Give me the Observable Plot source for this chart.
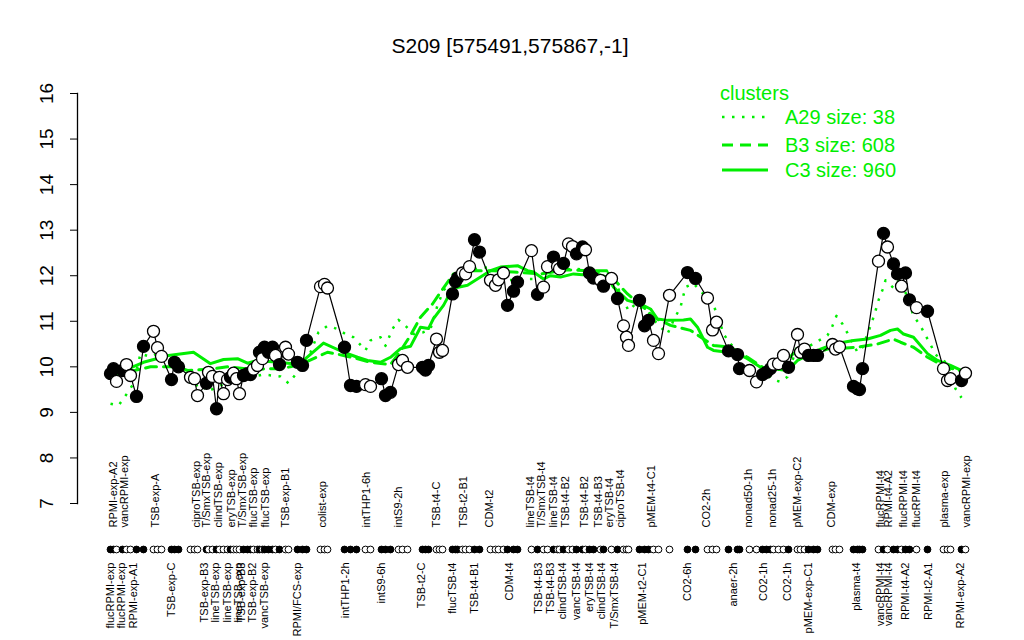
<!DOCTYPE html>
<html><head><meta charset="utf-8">
<script src="https://cdn.jsdelivr.net/npm/d3@7"></script>
<script src="https://cdn.jsdelivr.net/npm/@observablehq/plot@0.6"></script>
<style>
body{margin:0;background:#fff;font-family:"Liberation Sans",Arial,Helvetica,sans-serif;}
#wrap{position:relative;width:1024px;height:640px;overflow:hidden;}
#chart{position:absolute;left:0;top:0;}
#title{position:absolute;left:0;width:1020px;top:34px;text-align:center;font-size:21px;line-height:24px;color:#000;}
.lg{position:absolute;color:#00ee00;font-size:20px;line-height:24px;white-space:nowrap;}
.lgsvg{position:absolute;}
</style></head><body>
<div id="wrap">
<div id="chart"></div>
<div id="title">S209 [575491,575867,-1]</div>
<div id="legend"></div>
</div>
<script>
// ---- data ----
const pointPos = [0,3,6,12,16,20,26,33,43,47,51,61,64,68,80,84,87,96,98,102,106,109,113,117,120,123,126,129,133,137,140,143,147,149,152,154,158,162,165,169,175,178,187,192,196,210,214,217,234,240,246,255,260,271,275,280,288,292,297,312,315,318,326,329,332,342,345,347,352,355,359,364,369,380,385,388,393,397,403,407,421,427,433,437,443,447,449,453,458,462,466,472,475,479,483,490,493,501,507,513,516,518,529,534,538,543,548,559,577,585,597,602,606,618,627,629,639,646,652,656,660,663,668,673,678,687,690,694,698,703,707,722,725,729,743,747,749,752,768,773,777,783,787,791,795,799,806,817,833,837,840,851,855];
const pointValue = [9.85,9.96,9.68,9.92,10.05,9.81,9.35,10.45,10.78,10.42,10.23,9.72,10.10,10.00,9.77,9.74,9.37,9.64,9.88,9.79,9.08,9.77,9.41,9.72,9.77,9.86,9.74,9.41,9.81,9.85,9.83,9.95,10.03,10.32,10.18,10.43,10.32,10.43,10.25,10.05,10.43,10.28,10.10,10.03,10.58,11.76,11.81,11.73,10.43,9.59,9.57,9.61,9.57,9.74,9.37,9.44,10.05,10.14,9.99,9.99,9.93,10.03,10.61,10.32,10.36,11.60,11.87,11.95,12.06,12.04,12.20,12.79,12.52,11.90,11.79,11.91,12.06,11.35,11.66,11.86,12.55,11.59,11.75,12.20,12.41,12.20,12.15,12.27,12.70,12.64,12.48,12.63,12.57,12.06,11.95,11.90,11.77,11.94,11.50,10.90,10.65,10.47,11.46,10.90,11.02,10.58,10.29,11.57,12.07,11.94,11.51,10.81,10.98,10.35,10.27,9.96,9.92,9.67,9.83,9.88,9.96,10.06,10.07,10.25,9.99,10.71,10.32,10.39,10.25,10.25,10.25,10.49,10.39,10.44,9.57,9.52,9.50,9.96,12.32,12.93,12.63,12.26,12.04,11.77,12.06,11.47,11.30,11.22,9.96,9.70,9.74,9.70,9.86];
const pointFilled = [1,1,0,1,0,0,1,1,0,0,0,1,1,1,0,0,0,1,0,0,1,0,0,0,1,0,0,0,1,1,1,0,0,1,0,1,1,1,0,1,0,0,1,1,1,0,0,0,1,1,1,0,0,1,1,1,0,0,0,1,1,1,0,0,0,1,1,1,0,0,0,1,1,0,0,0,0,1,1,1,0,1,0,0,1,0,0,1,0,0,1,1,0,1,1,0,1,0,1,0,0,0,1,1,1,0,0,0,1,1,0,0,0,1,1,1,0,0,1,1,1,0,0,0,1,0,0,0,1,1,1,0,0,0,1,1,1,1,0,1,0,1,1,0,1,1,0,1,0,0,0,1,0];

const topLabels = ["RPMI-exp-A2","vancRPMI-exp","TSB-exp-A","ciproTSB-exp","T/SmxTSB-exp","clindTSB-exp","eryTSB-exp","T/SmxTSB-exp","flucTSB-exp","flucTSB-exp","TSB-exp-B1","colist-exp","intTHP1-6h","intS9-2h","TSB-t4-C","TSB-t2-B1","CDM-t2","lineTSB-t4","T/SmxTSB-t4","lineTSB-t4","TSB-t4-B2","TSB-t4-B2","TSB-t4-B3","eryTSB-t4","ciproTSB-t4","pMEM-t4-C1","CO2-2h","nonad50-1h","nonad25-1h","pMEM-exp-C2","CDM-exp","flucRPMI-t4","RPMI-t4-A2","flucRPMI-t4","flucRPMI-t4","plasma-exp","vancRPMI-exp"];
const topLabelPos = [3,14,45,86,96,108,121,132,143,155,175,212,256,288,326,353,379,420,431,443,455,474,488,499,510,541,596,638,662,687,721,770,778,793,806,834,856];
const bottomLabels = ["flucRPMI-exp","flucRPMI-exp","RPMI-exp-A1","TSB-exp-C","TSB-exp-B3","lineTSB-exp","lineTSB-exp","lineTSB-exp","TSB-exp-B3","TSB-exp-B2","vancTSB-exp","RPMI/FCS-exp","intTHP1-2h","intS9-6h","TSB-t2-C","flucTSB-t4","TSB-t4-B1","CDM-t4","TSB-t4-B3","TSB-t4-B3","clindTSB-t4","vancTSB-t4","eryTSB-t4","clindTSB-t4","T/SmxTSB-t4","pMEM-t2-C1","CO2-6h","anaer-2h","CO2-1h","CO2-1h","pMEM-exp-C1","plasma-t4","vancRPMI-t4","vancRPMI-t4","RPMI-t4-A2","RPMI-t2-A1","RPMI-exp-A2"];
const bottomLabelPos = [0,11,23,61,94,105,117,128,131,142,154,187,235,271,311,342,364,399,428,440,452,466,479,491,504,532,577,623,653,677,698,746,770,778,795,818,850];

const c3Pos = [0,17,33,58,83,100,113,127,137,147,167,183,193,213,233,247,257,270,280,290,300,310,318,323,333,342,357,370,380,390,407,417,423,433,440,450,463,472,480,497,503,517,530,540,547,557,573,580,587,597,603,617,627,637,650,663,677,687,697,710,723,743,757,770,780,787,793,803,817,827,840,855];
const c3Val = [9.80,9.95,10.10,10.25,10.32,10.07,10.16,10.18,10.08,10.14,10.10,10.07,10.14,10.52,10.32,10.21,10.14,10.10,10.21,10.40,10.45,10.87,10.84,11.06,11.35,11.72,11.79,11.97,12.11,12.19,12.22,12.11,12.08,11.93,12.00,11.97,12.04,12.02,12.08,11.97,11.75,11.46,11.38,11.27,11.05,11.02,11.03,11.05,10.87,10.43,10.36,10.32,10.29,10.18,9.99,9.96,9.92,10.14,10.25,10.39,10.50,10.58,10.61,10.69,10.80,10.83,10.72,10.65,10.29,10.14,10.03,9.88];
const b3Pos = [0,20,40,67,77,100,117,140,167,180,195,217,233,243,260,280,290,300,310,322,330,343,357,383,403,430,457,477,497,503,517,533,543,560,580,603,620,637,657,670,683,703,717,747,767,783,790,803,817,835,855];
const b3Val = [9.80,9.90,10.00,10.00,9.92,9.95,10.00,9.95,9.96,10.00,10.10,10.32,10.25,10.20,10.10,10.05,10.35,10.69,11.09,11.38,11.64,12.04,12.11,12.11,12.08,12.04,12.13,12.11,12.11,11.93,11.60,11.31,11.09,10.91,10.80,10.47,10.43,10.21,9.92,9.96,10.30,10.29,10.39,10.43,10.50,10.61,10.54,10.43,10.21,10.00,9.88];
const a29Pos = [0,8,13,23,30,40,50,73,82,90,97,123,137,153,170,178,185,200,208,217,227,235,243,255,260,270,275,282,288,295,303,313,320,327,333,338,350,380,397,417,427,443,467,487,497,507,518,525,537,547,557,563,570,575,583,602,607,613,620,637,648,662,670,677,687,697,717,722,726,732,737,747,752,757,762,765,768,772,775,783,790,803,810,815,820,825,837,845,851];
const a29Val = [9.19,9.15,9.30,9.63,10.29,10.22,10.32,10.00,9.55,9.63,9.46,9.72,9.76,9.83,9.79,9.64,9.83,10.32,10.76,10.90,10.83,10.72,10.65,10.36,10.58,10.65,10.46,10.83,11.03,10.90,10.72,10.76,10.83,11.35,11.68,11.79,12.11,12.19,11.90,11.93,11.93,12.13,12.15,12.08,12.08,11.75,11.23,11.38,11.20,10.94,10.72,11.02,11.31,11.75,11.83,11.38,11.16,10.72,10.50,10.18,10.03,9.72,9.67,9.78,10.50,10.43,10.69,10.90,11.12,10.94,10.74,10.32,10.43,10.72,11.02,11.23,11.46,11.69,11.90,11.73,11.95,11.12,10.90,10.69,10.49,10.27,10.07,9.52,9.32];

const yTicks = [7,8,9,10,11,12,13,14,15,16];
const clusterNames = ["A29 size: 38","B3 size: 608","C3 size: 960"];
const legendTitle = "clusters";
const titleText = "S209 [575491,575867,-1]";

// ---- build tables ----
const points = pointPos.map((p,i)=>({pos:p, value:pointValue[i], filled:pointFilled[i]===1}));
const topL = topLabels.map((t,i)=>({pos:topLabelPos[i], label:t}));
const botL = bottomLabels.map((t,i)=>({pos:bottomLabelPos[i], label:t}));
const mk = (P,V)=>P.map((p,i)=>({pos:p, value:V[i]}));
const a29 = mk(a29Pos,a29Val), b3 = mk(b3Pos,b3Val), c3 = mk(c3Pos,c3Val);
const yMin = yTicks[0], yMax = yTicks[yTicks.length-1];
const xDomain = [-33, 886];
const axisLine = [{x: xDomain[0], y: yMin}, {x: xDomain[0], y: yMax}];

const GREEN = "#00ee00";
const FONT = "Liberation Sans, Arial, Helvetica, sans-serif";

const chart = Plot.plot({
  width: 1024, height: 640,
  marginLeft: 77, marginRight: 28, marginTop: 93, marginBottom: 137,
  style: {fontFamily: FONT, background: "white", color: "black", overflow: "visible"},
  x: {type: "linear", domain: xDomain, axis: null},
  y: {type: "linear", domain: [yMin, yMax], axis: null},
  color: {type: "identity"},
  marks: [
    Plot.line(axisLine, {x: "x", y: "y", stroke: "black", strokeWidth: 1.3, strokeLinecap: "square"}),
    Plot.axisY({ticks: yTicks, anchor: "left", label: null, tickSize: 7, tickPadding: 0, tickFormat: () => "", stroke: "black", strokeOpacity: 1}),
    Plot.text(yTicks, {y: d=>d, frameAnchor: "left", dx: -31, rotate: -90, text: d=>String(d), fontSize: 19, textAnchor: "middle", lineAnchor: "middle", fill: "black"}),
    Plot.line(a29, {x: "pos", y: "value", stroke: GREEN, strokeWidth: 2.5, strokeDasharray: "2.5,7.5", strokeLinecap: "butt"}),
    Plot.line(b3, {x: "pos", y: "value", stroke: GREEN, strokeWidth: 3, strokeDasharray: "11,7"}),
    Plot.line(c3, {x: "pos", y: "value", stroke: GREEN, strokeWidth: 3}),
    Plot.line(points, {x: "pos", y: "value", stroke: "black", strokeWidth: 1.2}),
    Plot.dot(points, {x: "pos", y: "value", r: 6, fill: d=>d.filled ? "black" : "white", stroke: "black", strokeWidth: 1.3}),
    Plot.dot(points, {x: "pos", frameAnchor: "bottom", dy: 46, r: 3.4, fill: d=>d.filled ? "black" : "white", stroke: "black", strokeWidth: 1}),
    Plot.text(topL, {x: "pos", text: "label", frameAnchor: "bottom", dy: 24, rotate: -90, textAnchor: "start", lineAnchor: "middle", fontSize: 11, fill: "black"}),
    Plot.text(botL, {x: "pos", text: "label", frameAnchor: "bottom", dy: 59, rotate: -90, textAnchor: "end", lineAnchor: "middle", fontSize: 11, fill: "black"})
  ]
});
document.getElementById("chart").appendChild(chart);
document.getElementById("title").textContent = titleText;

// ---- legend ----
const lg = document.getElementById("legend");
const addDiv = (txt, left, cy) => { const d = document.createElement("div"); d.className = "lg"; d.textContent = txt; d.style.left = left + "px"; d.style.top = (cy - 12) + "px"; lg.appendChild(d); };
addDiv(legendTitle, 720, 93);
const dashes = ["2.5,7.5", "11,7", null];
const widths = [2.5, 3, 3];
const rows = [117, 145, 170];
clusterNames.forEach((name, i) => {
  const svg = d3.create("svg").attr("class", "lgsvg").attr("width", 50).attr("height", 10)
    .style("left", "720px").style("top", (rows[i] - 5) + "px");
  const ln = svg.append("line").attr("x1", 2).attr("x2", 48).attr("y1", 5).attr("y2", 5)
    .attr("stroke", GREEN).attr("stroke-width", widths[i]);
  if (dashes[i]) ln.attr("stroke-dasharray", dashes[i]);
  lg.appendChild(svg.node());
  addDiv(name, 785, rows[i]);
});
</script>
</body></html>
